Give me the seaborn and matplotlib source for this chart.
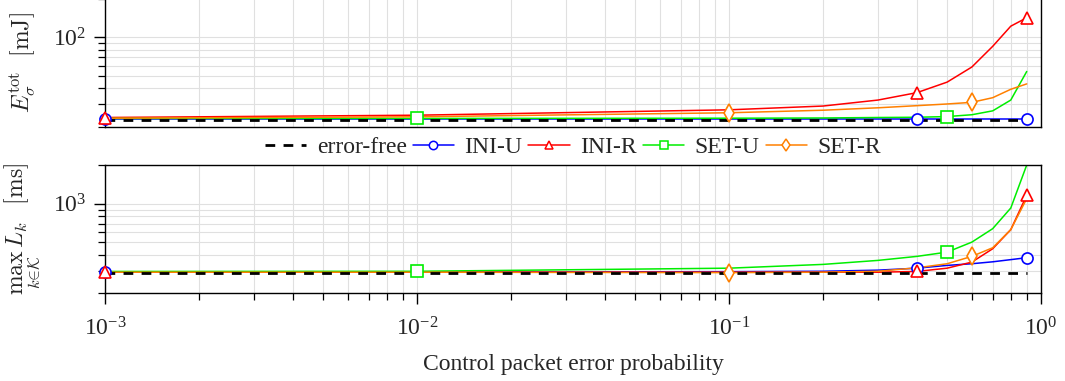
import numpy as np
import pandas as pd
import matplotlib
matplotlib.use("Agg")
import matplotlib.pyplot as plt
from matplotlib.lines import Line2D
from matplotlib.ticker import NullFormatter, LogLocator
import seaborn as sns

# ---------------- data ----------------
x_prob = [0.001, 0.01, 0.1, 0.2, 0.3, 0.4, 0.5, 0.6, 0.7, 0.8, 0.9]
series_names = ["INI-U", "INI-R", "SET-U", "SET-R"]

energy_error_free = [22.7, 22.7, 22.7, 22.7, 22.7, 22.7, 22.7, 22.7, 22.7, 22.7, 22.7]
energy_ini_u = [22.9, 22.9, 22.9, 22.9, 22.9, 22.9, 22.9, 22.9, 22.9, 22.9, 22.9]
energy_ini_r = [23.6, 24.6, 27.1, 29.0, 32.3, 36.9, 44.6, 58.5, 84.9, 122.0, 142.0]
energy_set_u = [23.2, 23.2, 23.3, 23.4, 23.6, 23.7, 24.0, 24.8, 26.6, 32.3, 54.0]
energy_set_r = [23.3, 23.9, 25.7, 26.9, 28.1, 29.2, 30.1, 31.0, 33.7, 39.2, 43.2]

latency_error_free = [290, 290, 290, 290, 290, 290, 290, 290, 290, 290, 290]
latency_ini_u = [293, 293, 295, 297, 303, 314, 330, 340, 352, 366, 379]
latency_ini_r = [292, 292, 292, 292, 292, 296, 314, 350, 445, 627, 1161]
latency_set_u = [296, 297, 314, 336, 361, 388, 419, 501, 638, 924, 2000]
latency_set_r = [292, 292, 290, 292, 297, 316, 340, 388, 453, 627, 1094]

energy = {"INI-U": energy_ini_u, "INI-R": energy_ini_r,
          "SET-U": energy_set_u, "SET-R": energy_set_r}
latency = {"INI-U": latency_ini_u, "INI-R": latency_ini_r,
           "SET-U": latency_set_u, "SET-R": latency_set_r}

# ---------------- style ----------------
sns.set_style("ticks")
plt.rcParams["font.family"] = ["Liberation Serif", "DejaVu Serif"]
plt.rcParams["mathtext.fontset"] = "cm"
plt.rcParams["axes.linewidth"] = 1.0

colors = {"INI-U": "#0000ff", "INI-R": "#ff0000", "SET-U": "#00ee00", "SET-R": "#ff8000"}
markers = {"INI-U": "o", "INI-R": "^", "SET-U": "s", "SET-R": "d"}
msizes = {"INI-U": 8, "INI-R": 8, "SET-U": 8, "SET-R": 9}
mevery = {"INI-U": (0, 5), "INI-R": (0, 5), "SET-U": (1, 5), "SET-R": (2, 5)}

fig = plt.figure(figsize=(10.65, 3.81), dpi=100)
ax1 = fig.add_axes([0.09906, 0.66745, 0.8784, 0.33596])
ax2 = fig.add_axes([0.09906, 0.23018, 0.8784, 0.3367])


def draw(ax, values, ref):
    for name in series_names:
        df = pd.DataFrame({"p": x_prob, "v": values[name]})
        sns.lineplot(data=df, x="p", y="v", ax=ax, color=colors[name],
                     linewidth=1.1, errorbar=None, zorder=2)
    dref = pd.DataFrame({"p": x_prob, "v": ref})
    sns.lineplot(data=dref, x="p", y="v", ax=ax, color="black", linewidth=2.0,
                 errorbar=None, zorder=2.5, dashes=False)
    ax.lines[-1].set_dashes([3.5, 3.0])
    for name in series_names:
        df = pd.DataFrame({"p": x_prob, "v": values[name]})
        sns.lineplot(data=df, x="p", y="v", ax=ax, color=colors[name],
                     linestyle="none", marker=markers[name], markersize=msizes[name],
                     markerfacecolor="white", markeredgecolor=colors[name],
                     markeredgewidth=1.2, markevery=mevery[name],
                     errorbar=None, zorder=3, clip_on=False)
    ax.set_xscale("log")
    ax.set_yscale("log")
    ax.set_xlim(1e-3, 1.0)
    ax.xaxis.set_major_locator(LogLocator(base=10, numticks=10))
    ax.xaxis.set_minor_locator(LogLocator(base=10, subs=np.arange(2, 10), numticks=20))
    ax.yaxis.set_minor_locator(LogLocator(base=10, subs=np.arange(2, 10), numticks=20))
    ax.yaxis.set_minor_formatter(NullFormatter())
    ax.xaxis.set_minor_formatter(NullFormatter())
    ax.grid(True, which="both", color="#e0e0e0", linewidth=0.8, zorder=0)
    ax.set_axisbelow(True)
    ax.tick_params(which="major", direction="out", length=8, width=1.0,
                   labelsize=17, pad=6, color="black")
    ax.tick_params(which="minor", direction="out", length=5, width=0.9, color="black")
    ax.tick_params(axis="x", which="major", pad=9)
    for s in ax.spines.values():
        s.set_visible(True)
        s.set_color("black")
        s.set_linewidth(1.0)
    ax.set_xlabel("")


draw(ax1, energy, energy_error_free)
draw(ax2, latency, latency_error_free)

ax1.set_ylim(20, 200)
ax2.set_ylim(200, 2000)
ax1.tick_params(axis="x", which="both", bottom=False, labelbottom=False)

ax1.set_ylabel(r"$E_\sigma^{\mathrm{tot}}\ \ \mathrm{[mJ]}$", fontsize=17)
ax2.set_ylabel(r"$\max_{k\in\mathcal{K}}\, L_k\ \ \mathrm{[ms]}$", fontsize=17)
ax1.yaxis.set_label_coords(-0.073, 0.5)
ax2.yaxis.set_label_coords(-0.068, 0.5)
ax2.set_xlabel("Control packet error probability", fontsize=17, labelpad=10)

handles = [Line2D([], [], color="black", linewidth=2.0, dashes=[3.5, 3.0])]
for name in series_names:
    handles.append(Line2D([], [], color=colors[name], linewidth=1.1,
                          marker=markers[name], markersize=6,
                          markerfacecolor="white", markeredgecolor=colors[name],
                          markeredgewidth=1.1))
labels = ["error-free"] + series_names
fig.legend(handles, labels, loc="center", bbox_to_anchor=(573 / 1065, 1 - 147 / 381),
           ncol=5, frameon=False, fontsize=17, handlelength=1.75,
           handletextpad=0.45, columnspacing=0.25, borderpad=0.0)

fig.savefig("out.png", dpi=100)
